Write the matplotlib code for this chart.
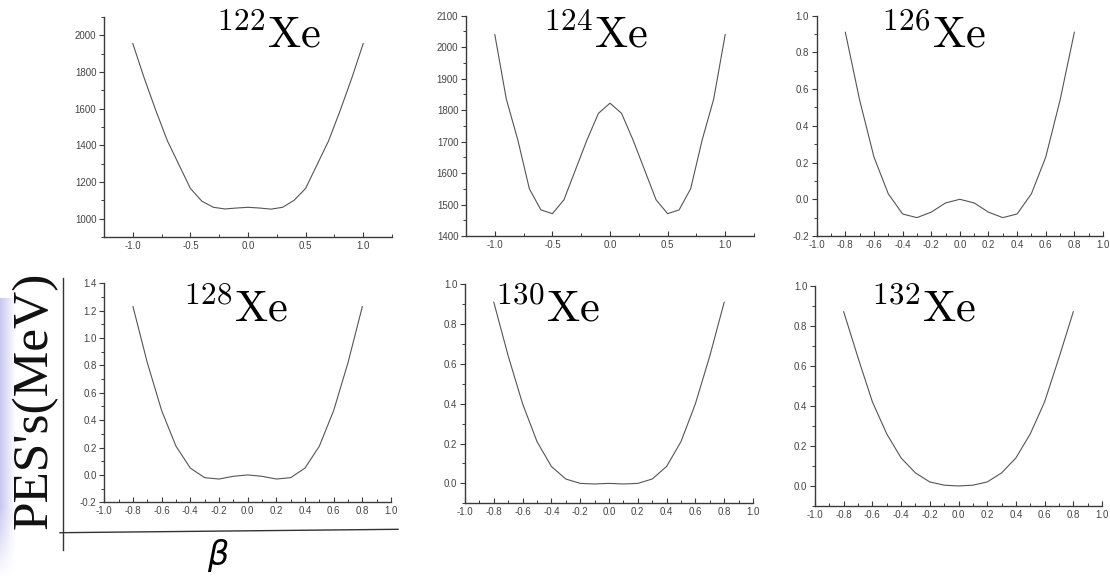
import matplotlib
matplotlib.use("Agg")
import matplotlib.pyplot as plt
import numpy as np
from matplotlib.lines import Line2D
from matplotlib.ticker import MultipleLocator

plt.rcParams['mathtext.fontset'] = 'cm'
plt.rcParams['font.family'] = ['Liberation Sans', 'DejaVu Sans']

W, H = 1110, 578

# ---- data ----
beta_wide = [-1.0, -0.9, -0.8, -0.7, -0.6, -0.5, -0.4, -0.3, -0.2, -0.1, 0.0,
             0.1, 0.2, 0.3, 0.4, 0.5, 0.6, 0.7, 0.8, 0.9, 1.0]
beta_narrow = [-0.8, -0.7, -0.6, -0.5, -0.4, -0.3, -0.2, -0.1, 0.0,
               0.1, 0.2, 0.3, 0.4, 0.5, 0.6, 0.7, 0.8]

pes_122 = [1955, 1765, 1590, 1425, 1295, 1165, 1095, 1062, 1053, 1058, 1062,
           1058, 1052, 1062, 1100, 1165, 1295, 1425, 1590, 1765, 1955]
pes_124 = [2040, 1835, 1705, 1550, 1483, 1471, 1515, 1610, 1705, 1790, 1822,
           1790, 1705, 1610, 1515, 1471, 1483, 1550, 1705, 1835, 2040]
pes_126 = [0.91, 0.54, 0.23, 0.03, -0.08, -0.10, -0.07, -0.02, 0.0,
           -0.02, -0.07, -0.10, -0.08, 0.03, 0.23, 0.54, 0.91]
pes_128 = [1.23, 0.82, 0.47, 0.21, 0.05, -0.02, -0.03, -0.01, 0.0,
           -0.01, -0.03, -0.02, 0.05, 0.21, 0.47, 0.82, 1.23]
pes_130 = [0.91, 0.64, 0.40, 0.21, 0.085, 0.022, 0.0, -0.003, 0.0,
           -0.003, 0.0, 0.022, 0.085, 0.21, 0.40, 0.64, 0.91]
pes_132 = [0.87, 0.64, 0.42, 0.26, 0.14, 0.065, 0.02, 0.004, 0.0,
           0.004, 0.02, 0.065, 0.14, 0.26, 0.42, 0.64, 0.87]

labels = [r'$^{122}\mathrm{Xe}$', r'$^{124}\mathrm{Xe}$', r'$^{126}\mathrm{Xe}$',
          r'$^{128}\mathrm{Xe}$', r'$^{130}\mathrm{Xe}$', r'$^{132}\mathrm{Xe}$']

fig = plt.figure(figsize=(W / 100, H / 100), dpi=100)
fig.patch.set_facecolor('white')

def px_axes(left, right, top, bottom):
    return fig.add_axes([left / W, 1 - bottom / H, (right - left) / W, (bottom - top) / H])

panels = [
    ((104, 392, 17, 237), beta_wide, pes_122, (-1.25, 1.25), (900, 2100), 0.5, 0.25,
     [1000, 1200, 1400, 1600, 1800, 2000], 100, (216, 48)),
    ((466, 754, 15.7, 236), beta_wide, pes_124, (-1.25, 1.25), (1400, 2100), 0.5, 0.25,
     [1400, 1500, 1600, 1700, 1800, 1900, 2000, 2100], 50, (543, 48)),
    ((816.7, 1103, 15.7, 236), beta_narrow, pes_126, (-1.0, 1.0), (-0.2, 1.0), 0.2, 0.1,
     [-0.2, 0.0, 0.2, 0.4, 0.6, 0.8, 1.0], 0.1, (881, 48)),
    ((104.3, 391, 283.3, 502.3), beta_narrow, pes_128, (-1.0, 1.0), (-0.2, 1.4), 0.2, 0.1,
     [-0.2, 0.0, 0.2, 0.4, 0.6, 0.8, 1.0, 1.2, 1.4], 0.1, (183, 321)),
    ((465, 753, 284.3, 503.3), beta_narrow, pes_130, (-1.0, 1.0), (-0.1, 1.0), 0.2, 0.1,
     [0.0, 0.2, 0.4, 0.6, 0.8, 1.0], 0.1, (495, 321)),
    ((815, 1102, 285.7, 506), beta_narrow, pes_132, (-1.0, 1.0), (-0.1, 1.0), 0.2, 0.1,
     [0.0, 0.2, 0.4, 0.6, 0.8, 1.0], 0.1, (871, 321)),
]

spine_col = '#3a3a3a'
for i, (box, xs, ys, xl, yl, xmaj, xmin, yt, ymin, tpos) in enumerate(panels):
    ax = px_axes(*box)
    ax.plot(xs, ys, color='#555555', lw=0.8)
    ax.set_xlim(*xl)
    ax.set_ylim(*yl)
    for s in ('top', 'right'):
        ax.spines[s].set_visible(False)
    for s in ('left', 'bottom'):
        ax.spines[s].set_color(spine_col)
        ax.spines[s].set_linewidth(1.0)
    ax.xaxis.set_major_locator(MultipleLocator(xmaj))
    ax.xaxis.set_minor_locator(MultipleLocator(xmin))
    ax.set_yticks(yt)
    ax.yaxis.set_minor_locator(MultipleLocator(ymin))
    ax.xaxis.set_major_formatter(plt.FuncFormatter(lambda v, p: f'{v:.1f}'))
    if isinstance(yt[0], float):
        ax.yaxis.set_major_formatter(plt.FuncFormatter(lambda v, p: f'{v:.1f}'))
    ax.tick_params(axis='x', which='major', direction='in', length=3.5, width=0.8,
                   labelsize=7, colors=spine_col, labelcolor='#444444', pad=3)
    ax.tick_params(axis='x', which='minor', direction='in', length=2, width=0.7, colors=spine_col)
    ax.tick_params(axis='y', which='major', direction='out', length=3.5, width=0.8,
                   labelsize=7, colors=spine_col, labelcolor='#444444', pad=2)
    ax.tick_params(axis='y', which='minor', direction='out', length=2, width=0.7, colors=spine_col)
    ax.patch.set_alpha(0)
    fig.text(tpos[0] / W, 1 - tpos[1] / H, labels[i], fontsize=32, ha='left',
             va='baseline', color='black')

# lavender strip on the left edge
gax = fig.add_axes([0, 0, 16 / W, 280 / H])
gx = np.linspace(0, 1, 40)
gy = np.linspace(0, 1, 100)
GX, GY = np.meshgrid(gx, gy)
alpha = (1 - GX) * np.clip((1 - GY) / 0.25, 0, 1) * 0.9
img = np.zeros((100, 40, 4))
img[..., 0] = 0.76
img[..., 1] = 0.76
img[..., 2] = 0.93
img[..., 3] = alpha
gax.imshow(img, aspect='auto', origin='upper', extent=(0, 1, 0, 1))
gax.axis('off')

# outer frame lines for the overall axis labels
fig.add_artist(Line2D([63 / W, 63 / W], [1 - 278 / H, 1 - 550 / H], color='#333333', lw=1.0))
fig.add_artist(Line2D([60 / W, 398 / W], [1 - 532.7 / H, 1 - 529.3 / H], color='#333333', lw=1.0))

fig.text(34 / W, 1 - 400 / H, "PES's(MeV)", rotation=90, fontsize=37,
         family=['Liberation Serif', 'DejaVu Serif'], ha='center', va='center', color='#111111')
fig.text(218 / W, 1 - 555 / H, r'$\beta$', fontsize=24, ha='center', va='center',
         family=['DejaVu Sans'], math_fontfamily='dejavusans')

fig.savefig('out.png', dpi=100, facecolor='white')
